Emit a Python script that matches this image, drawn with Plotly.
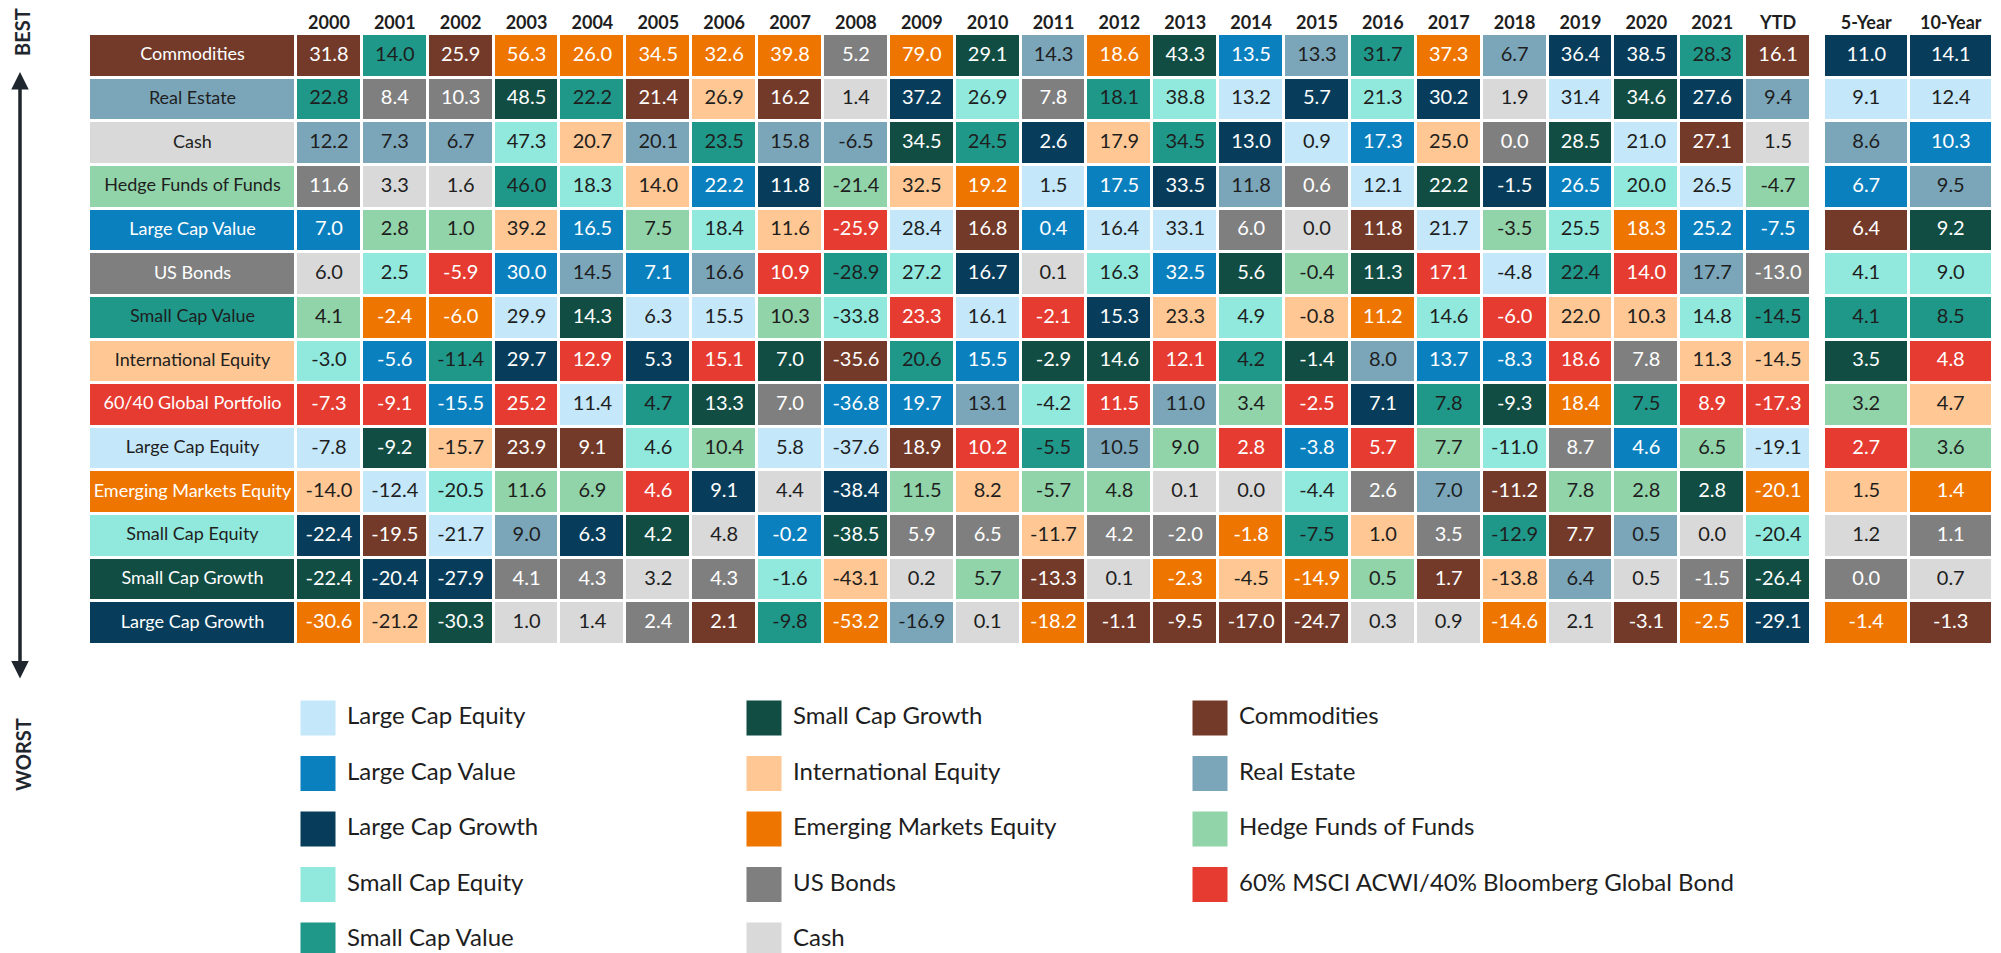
import plotly.graph_objects as go

W, H = 2001, 953

# ---------------- classes ----------------
classes = ["LCE", "LCV", "LCG", "SCE", "SCV", "SCG", "INT", "EM", "BND", "CSH", "COM", "RE", "HF", "GP"]
class_names = ["Large Cap Equity", "Large Cap Value", "Large Cap Growth", "Small Cap Equity",
               "Small Cap Value", "Small Cap Growth", "International Equity", "Emerging Markets Equity",
               "US Bonds", "Cash", "Commodities", "Real Estate", "Hedge Funds of Funds",
               "60% MSCI ACWI/40% Bloomberg Global Bond"]
short_names = ["Large Cap Equity", "Large Cap Value", "Large Cap Growth", "Small Cap Equity",
               "Small Cap Value", "Small Cap Growth", "International Equity", "Emerging Markets Equity",
               "US Bonds", "Cash", "Commodities", "Real Estate", "Hedge Funds of Funds",
               "60/40 Global Portfolio"]
class_colors = ["#C4E7F9", "#0B80BF", "#073D5B", "#91E9DD", "#1F988A", "#114D43", "#FFC793",
                "#EE7600", "#7F7F7F", "#D9D9D9", "#733A29", "#7BA6BA", "#92D4AA", "#E53B31"]
white_text_classes = ["LCV", "LCG", "SCG", "EM", "BND", "COM", "GP"]

# ---------------- periods ----------------
years = ["2000", "2001", "2002", "2003", "2004", "2005", "2006", "2007", "2008", "2009", "2010",
         "2011", "2012", "2013", "2014", "2015", "2016", "2017", "2018", "2019", "2020", "2021", "YTD"]
long_periods = ["5-Year", "10-Year"]

# ---------------- ranked data (best -> worst) ----------------
c2000 = ["COM", "SCV", "RE", "BND", "LCV", "CSH", "HF", "SCE", "GP", "LCE", "INT", "LCG", "SCG", "EM"]
v2000 = [31.8, 22.8, 12.2, 11.6, 7.0, 6.0, 4.1, -3.0, -7.3, -7.8, -14.0, -22.4, -22.4, -30.6]
c2001 = ["SCV", "BND", "RE", "CSH", "HF", "SCE", "EM", "LCV", "GP", "SCG", "LCE", "COM", "LCG", "INT"]
v2001 = [14.0, 8.4, 7.3, 3.3, 2.8, 2.5, -2.4, -5.6, -9.1, -9.2, -12.4, -19.5, -20.4, -21.2]
c2002 = ["COM", "BND", "RE", "CSH", "HF", "GP", "EM", "SCV", "LCV", "INT", "SCE", "LCE", "LCG", "SCG"]
v2002 = [25.9, 10.3, 6.7, 1.6, 1.0, -5.9, -6.0, -11.4, -15.5, -15.7, -20.5, -21.7, -27.9, -30.3]
c2003 = ["EM", "SCG", "SCE", "SCV", "INT", "LCV", "LCE", "LCG", "GP", "COM", "HF", "RE", "BND", "CSH"]
v2003 = [56.3, 48.5, 47.3, 46.0, 39.2, 30.0, 29.9, 29.7, 25.2, 23.9, 11.6, 9.0, 4.1, 1.0]
c2004 = ["EM", "SCV", "INT", "SCE", "LCV", "RE", "SCG", "GP", "LCE", "COM", "HF", "LCG", "BND", "CSH"]
v2004 = [26.0, 22.2, 20.7, 18.3, 16.5, 14.5, 14.3, 12.9, 11.4, 9.1, 6.9, 6.3, 4.3, 1.4]
c2005 = ["EM", "COM", "RE", "INT", "HF", "LCV", "LCE", "LCG", "SCV", "SCE", "GP", "SCG", "CSH", "BND"]
v2005 = [34.5, 21.4, 20.1, 14.0, 7.5, 7.1, 6.3, 5.3, 4.7, 4.6, 4.6, 4.2, 3.2, 2.4]
c2006 = ["EM", "INT", "SCV", "LCV", "SCE", "RE", "LCE", "GP", "SCG", "HF", "LCG", "CSH", "BND", "COM"]
v2006 = [32.6, 26.9, 23.5, 22.2, 18.4, 16.6, 15.5, 15.1, 13.3, 10.4, 9.1, 4.8, 4.3, 2.1]
c2007 = ["EM", "COM", "RE", "LCG", "INT", "GP", "HF", "SCG", "BND", "LCE", "CSH", "LCV", "SCE", "SCV"]
v2007 = [39.8, 16.2, 15.8, 11.8, 11.6, 10.9, 10.3, 7.0, 7.0, 5.8, 4.4, -0.2, -1.6, -9.8]
c2008 = ["BND", "CSH", "RE", "HF", "GP", "SCV", "SCE", "COM", "LCV", "LCE", "LCG", "SCG", "INT", "EM"]
v2008 = [5.2, 1.4, -6.5, -21.4, -25.9, -28.9, -33.8, -35.6, -36.8, -37.6, -38.4, -38.5, -43.1, -53.2]
c2009 = ["EM", "LCG", "SCG", "INT", "LCE", "SCE", "GP", "SCV", "LCV", "COM", "HF", "BND", "CSH", "RE"]
v2009 = [79.0, 37.2, 34.5, 32.5, 28.4, 27.2, 23.3, 20.6, 19.7, 18.9, 11.5, 5.9, 0.2, -16.9]
c2010 = ["SCG", "SCE", "SCV", "EM", "COM", "LCG", "LCE", "LCV", "RE", "GP", "INT", "BND", "HF", "CSH"]
v2010 = [29.1, 26.9, 24.5, 19.2, 16.8, 16.7, 16.1, 15.5, 13.1, 10.2, 8.2, 6.5, 5.7, 0.1]
c2011 = ["RE", "BND", "LCG", "LCE", "LCV", "CSH", "GP", "SCG", "SCE", "SCV", "HF", "INT", "COM", "EM"]
v2011 = [14.3, 7.8, 2.6, 1.5, 0.4, 0.1, -2.1, -2.9, -4.2, -5.5, -5.7, -11.7, -13.3, -18.2]
c2012 = ["EM", "SCV", "INT", "LCV", "LCE", "SCE", "LCG", "SCG", "GP", "RE", "HF", "BND", "CSH", "COM"]
v2012 = [18.6, 18.1, 17.9, 17.5, 16.4, 16.3, 15.3, 14.6, 11.5, 10.5, 4.8, 4.2, 0.1, -1.1]
c2013 = ["SCG", "SCE", "SCV", "LCG", "LCE", "LCV", "INT", "GP", "RE", "HF", "CSH", "BND", "EM", "COM"]
v2013 = [43.3, 38.8, 34.5, 33.5, 33.1, 32.5, 23.3, 12.1, 11.0, 9.0, 0.1, -2.0, -2.3, -9.5]
c2014 = ["LCV", "LCE", "LCG", "RE", "BND", "SCG", "SCE", "SCV", "HF", "GP", "CSH", "EM", "INT", "COM"]
v2014 = [13.5, 13.2, 13.0, 11.8, 6.0, 5.6, 4.9, 4.2, 3.4, 2.8, 0.0, -1.8, -4.5, -17.0]
c2015 = ["RE", "LCG", "LCE", "BND", "CSH", "HF", "INT", "SCG", "GP", "LCV", "SCE", "SCV", "EM", "COM"]
v2015 = [13.3, 5.7, 0.9, 0.6, 0.0, -0.4, -0.8, -1.4, -2.5, -3.8, -4.4, -7.5, -14.9, -24.7]
c2016 = ["SCV", "SCE", "LCV", "LCE", "COM", "SCG", "EM", "RE", "LCG", "GP", "BND", "INT", "HF", "CSH"]
v2016 = [31.7, 21.3, 17.3, 12.1, 11.8, 11.3, 11.2, 8.0, 7.1, 5.7, 2.6, 1.0, 0.5, 0.3]
c2017 = ["EM", "LCG", "INT", "SCG", "LCE", "GP", "SCE", "LCV", "SCV", "HF", "RE", "BND", "COM", "CSH"]
v2017 = [37.3, 30.2, 25.0, 22.2, 21.7, 17.1, 14.6, 13.7, 7.8, 7.7, 7.0, 3.5, 1.7, 0.9]
c2018 = ["RE", "CSH", "BND", "LCG", "HF", "LCE", "GP", "LCV", "SCG", "SCE", "COM", "SCV", "INT", "EM"]
v2018 = [6.7, 1.9, 0.0, -1.5, -3.5, -4.8, -6.0, -8.3, -9.3, -11.0, -11.2, -12.9, -13.8, -14.6]
c2019 = ["LCG", "LCE", "SCG", "LCV", "SCE", "SCV", "INT", "GP", "EM", "BND", "HF", "COM", "RE", "CSH"]
v2019 = [36.4, 31.4, 28.5, 26.5, 25.5, 22.4, 22.0, 18.6, 18.4, 8.7, 7.8, 7.7, 6.4, 2.1]
c2020 = ["LCG", "SCG", "LCE", "SCE", "EM", "GP", "INT", "BND", "SCV", "LCV", "HF", "RE", "CSH", "COM"]
v2020 = [38.5, 34.6, 21.0, 20.0, 18.3, 14.0, 10.3, 7.8, 7.5, 4.6, 2.8, 0.5, 0.5, -3.1]
c2021 = ["SCV", "LCG", "COM", "LCE", "LCV", "RE", "SCE", "INT", "GP", "HF", "SCG", "CSH", "BND", "EM"]
v2021 = [28.3, 27.6, 27.1, 26.5, 25.2, 17.7, 14.8, 11.3, 8.9, 6.5, 2.8, 0.0, -1.5, -2.5]
cYTD = ["COM", "RE", "CSH", "HF", "LCV", "BND", "SCV", "INT", "GP", "LCE", "EM", "SCE", "SCG", "LCG"]
vYTD = [16.1, 9.4, 1.5, -4.7, -7.5, -13.0, -14.5, -14.5, -17.3, -19.1, -20.1, -20.4, -26.4, -29.1]
c5yr = ["LCG", "LCE", "RE", "LCV", "COM", "SCE", "SCV", "SCG", "HF", "GP", "INT", "CSH", "BND", "EM"]
v5yr = [11.0, 9.1, 8.6, 6.7, 6.4, 4.1, 4.1, 3.5, 3.2, 2.7, 1.5, 1.2, 0.0, -1.4]
c10yr = ["LCG", "LCE", "LCV", "RE", "SCG", "SCE", "SCV", "GP", "INT", "HF", "EM", "BND", "CSH", "COM"]
v10yr = [14.1, 12.4, 10.3, 9.5, 9.2, 9.0, 8.5, 4.8, 4.7, 3.6, 1.4, 1.1, 0.7, -1.3]

# row labels on the left follow the YTD ranking
label_classes = cYTD

# legend layout (column-major)
legend_order = [["LCE", "LCV", "LCG", "SCE", "SCV"],
                ["SCG", "INT", "EM", "BND", "CSH"],
                ["COM", "RE", "HF", "GP"]]

# ---------------- assemble ----------------
year_classes = [c2000, c2001, c2002, c2003, c2004, c2005, c2006, c2007, c2008, c2009, c2010, c2011,
                c2012, c2013, c2014, c2015, c2016, c2017, c2018, c2019, c2020, c2021, cYTD]
year_values = [v2000, v2001, v2002, v2003, v2004, v2005, v2006, v2007, v2008, v2009, v2010, v2011,
               v2012, v2013, v2014, v2015, v2016, v2017, v2018, v2019, v2020, v2021, vYTD]
long_classes = [c5yr, c10yr]
long_values = [v5yr, v10yr]

n_rows = len(label_classes)
ranks = list(range(1, n_rows + 1))
idx = {c: i for i, c in enumerate(classes)}
n_cls = len(classes)

colorscale = []
for i, col in enumerate(class_colors):
    colorscale.append([i / n_cls, col])
    colorscale.append([(i + 1) / n_cls, col])

FONT = "Lato, 'Open Sans', sans-serif"
DARK = "#1E1E1E"
VAL_SIZE = 20
LBL_SIZE = 18


def px_x(p):
    return p / W


def px_y(p):
    return 1 - p / H


fig = go.Figure()

hm_common = dict(colorscale=colorscale, zmin=-0.5, zmax=n_cls - 0.5, showscale=False,
                 xgap=3, ygap=3, hoverinfo="skip")

# label column
fig.add_trace(go.Heatmap(x=["Asset"], y=ranks, z=[[idx[c]] for c in label_classes],
                         xaxis="x", yaxis="y", **hm_common))
# year columns
fig.add_trace(go.Heatmap(x=years, y=ranks,
                         z=[[idx[year_classes[j][r]] for j in range(len(years))] for r in range(n_rows)],
                         xaxis="x2", yaxis="y", **hm_common))
# 5/10 year columns
fig.add_trace(go.Heatmap(x=long_periods, y=ranks,
                         z=[[idx[long_classes[j][r]] for j in range(len(long_periods))] for r in range(n_rows)],
                         xaxis="x3", yaxis="y", **hm_common))


def add_text(xs, ys, texts, cls_list, axis, size):
    for is_white in (True, False):
        sel = [k for k, c in enumerate(cls_list) if (c in white_text_classes) == is_white]
        fig.add_trace(go.Scatter(
            x=[xs[k] for k in sel], y=[ys[k] for k in sel], text=[texts[k] for k in sel],
            mode="text", textposition="middle center",
            textfont=dict(family=FONT, size=size, color="#FFFFFF" if is_white else DARK),
            xaxis=axis, yaxis="y", hoverinfo="skip", showlegend=False, cliponaxis=False))


# label texts
add_text(["Asset"] * n_rows, ranks, [short_names[idx[c]] for c in label_classes], label_classes, "x", LBL_SIZE)

# year value texts
xs, ys, ts, cs = [], [], [], []
for j, yr in enumerate(years):
    for r in range(n_rows):
        xs.append(yr)
        ys.append(ranks[r])
        ts.append(f"{year_values[j][r]:.1f}")
        cs.append(year_classes[j][r])
add_text(xs, ys, ts, cs, "x2", VAL_SIZE)

xs, ys, ts, cs = [], [], [], []
for j, p in enumerate(long_periods):
    for r in range(n_rows):
        xs.append(p)
        ys.append(ranks[r])
        ts.append(f"{long_values[j][r]:.1f}")
        cs.append(long_classes[j][r])
add_text(xs, ys, ts, cs, "x3", VAL_SIZE)

# legend swatches
lx, ly, lc, lt = [], [], [], []
for ci, col in enumerate(legend_order):
    for ri, c in enumerate(col):
        lx.append(ci)
        ly.append(ri)
        lc.append(class_colors[idx[c]])
        lt.append(" " + class_names[idx[c]])
fig.add_trace(go.Scatter(x=lx, y=ly, text=lt, mode="markers+text", textposition="middle right",
                         marker=dict(symbol="square", size=35, color=lc, line=dict(width=0)),
                         textfont=dict(family=FONT, size=24, color=DARK),
                         xaxis="x4", yaxis="y4", hoverinfo="skip", showlegend=False, cliponaxis=False))

# ---------------- axes ----------------
hidden = dict(showgrid=False, zeroline=False, showticklabels=False, ticks="", fixedrange=True, showline=False)
top_axis = dict(side="top", type="category", showgrid=False, zeroline=False, ticks="", fixedrange=True,
                showline=False, tickfont=dict(family=FONT, size=18, color=DARK, weight="bold"))

leg_x0, leg_dx = 318, 446
leg_y0, leg_dy = 718, 55.5

fig.update_layout(
    width=W, height=H,
    margin=dict(l=0, r=0, t=0, b=0),
    paper_bgcolor="white", plot_bgcolor="rgba(0,0,0,0)",
    showlegend=False,
    font=dict(family=FONT, color=DARK),
    xaxis=dict(domain=[px_x(89), px_x(296)], anchor="y", range=[-0.5, 0.5], type="category", **hidden),
    xaxis2=dict(domain=[px_x(296), px_x(1811)], anchor="y", range=[-0.5, len(years) - 0.5], **top_axis),
    xaxis3=dict(domain=[px_x(1824), px_x(1993)], anchor="y", range=[-0.5, len(long_periods) - 0.5], **top_axis),
    yaxis=dict(domain=[px_y(645), px_y(34)], anchor="x", range=[n_rows + 0.5, 0.5], **hidden),
    xaxis4=dict(domain=[0, 1], anchor="y4", range=[-leg_x0 / leg_dx, (W - leg_x0) / leg_dx], **hidden),
    yaxis4=dict(domain=[0, 1], anchor="x4", range=[(H - leg_y0) / leg_dy, -leg_y0 / leg_dy], **hidden),
)

# BEST / WORST arrow
fig.add_annotation(x=px_x(20), y=px_y(72), xref="paper", yref="paper", ax=0, ay=608,
                   axref="pixel", ayref="pixel", showarrow=True, arrowhead=2, arrowside="end+start",
                   arrowsize=1, arrowwidth=3.5, arrowcolor="#1F262D", text="")
fig.add_annotation(x=px_x(22), y=px_y(32), xref="paper", yref="paper", text="<b>BEST</b>",
                   xanchor="center", yanchor="middle",
                   textangle=-90, showarrow=False, font=dict(family=FONT, size=20, color="#1F262D"))
fig.add_annotation(x=px_x(23), y=px_y(755), xref="paper", yref="paper", text="<b>WORST</b>",
                   xanchor="center", yanchor="middle",
                   textangle=-90, showarrow=False, font=dict(family=FONT, size=20, color="#1F262D"))

fig.write_html("out.html", config={"displayModeBar": False},
               post_script="document.body.style.margin='0';document.body.style.overflow='hidden';")
